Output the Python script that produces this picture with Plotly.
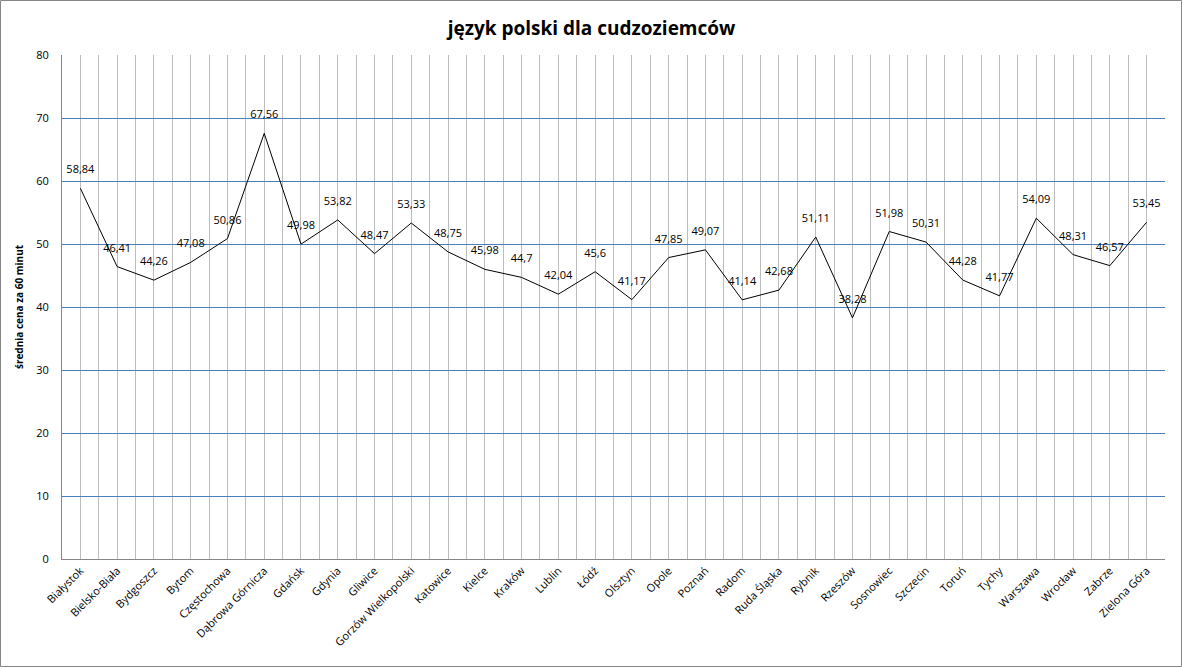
import plotly.graph_objects as go

cities = ["Białystok", "Bielsko-Biała", "Bydgoszcz", "Bytom", "Częstochowa", "Dąbrowa Górnicza",
          "Gdańsk", "Gdynia", "Gliwice", "Gorzów Wielkopolski", "Katowice", "Kielce", "Kraków",
          "Lublin", "Łódź", "Olsztyn", "Opole", "Poznań", "Radom", "Ruda Śląska", "Rybnik",
          "Rzeszów", "Sosnowiec", "Szczecin", "Toruń", "Tychy", "Warszawa", "Wrocław", "Zabrze",
          "Zielona Góra"]
prices = [58.84, 46.41, 44.26, 47.08, 50.86, 67.56, 49.98, 53.82, 48.47, 53.33, 48.75, 45.98,
          44.7, 42.04, 45.6, 41.17, 47.85, 49.07, 41.14, 42.68, 51.11, 38.28, 51.98, 50.31,
          44.28, 41.77, 54.09, 48.31, 46.57, 53.45]
y_ticks = [0, 10, 20, 30, 40, 50, 60, 70, 80]

idx = list(range(len(cities)))
labels = [repr(v).replace(".", ",") for v in prices]

font_family = "Open Sans, DejaVu Sans, sans-serif"

fig = go.Figure()
fig.add_trace(go.Scatter(
    x=idx, y=prices, mode="lines+markers+text", text=labels, textposition="top center",
    textfont=dict(family=font_family, size=11, color="#000000"),
    marker=dict(size=18, color="rgba(0,0,0,0)"),
    line=dict(color="#000000", width=1), hoverinfo="skip", showlegend=False,
    cliponaxis=False,
))

W, H = 1183, 668
ml, mr, mt, mb = 62, 18, 55, 109
pw, ph = W - ml - mr, H - mt - mb

fig.update_layout(
    width=W, height=H,
    margin=dict(l=ml, r=mr, t=mt, b=mb, autoexpand=False),
    paper_bgcolor="white", plot_bgcolor="white",
    title=dict(text="<b>język polski dla cudzoziemców</b>", x=0.5, xanchor="center",
               y=1 - 28 / H, yanchor="middle",
               font=dict(family=font_family, size=19, color="#000000")),
    xaxis=dict(
        range=[-0.5, len(cities) - 0.5], tickmode="array", tickvals=idx, ticktext=cities,
        tickangle=-45, showgrid=True, gridcolor="#bdbdbd", gridwidth=1,
        minor=dict(tick0=0.5, dtick=1, showgrid=True, gridcolor="#bdbdbd", gridwidth=1),
        showline=True, linecolor="#868686", linewidth=1, ticks="", zeroline=False,
        tickfont=dict(family=font_family, size=11, color="#000000"),
        fixedrange=True, automargin=False,
    ),
    yaxis=dict(
        range=[0, 80], tickmode="array", tickvals=y_ticks,
        showgrid=True, gridcolor="#4a7ebb", gridwidth=1, zeroline=False,
        showline=True, linecolor="#868686", linewidth=1, ticks="",
        ticklabelstandoff=10,
        tickfont=dict(family=font_family, size=11, color="#000000"),
        title=dict(text="<b>średnia cena za 60 minut</b>", standoff=10,
                   font=dict(family=font_family, size=10, color="#000000")),
        fixedrange=True, automargin=False,
    ),
    shapes=[dict(type="rect", xref="paper", yref="paper",
                 x0=-(ml - 0.5) / pw, x1=1 + (mr - 1.5) / pw,
                 y0=-(mb - 1.5) / ph, y1=1 + (mt - 0.5) / ph,
                 line=dict(color="#868686", width=1), fillcolor="rgba(0,0,0,0)", layer="below")],
)

fig.write_html("out.html", config={"displayModeBar": False, "staticPlot": True},
               post_script="document.body.style.margin='0px';document.body.style.overflow='hidden';")
